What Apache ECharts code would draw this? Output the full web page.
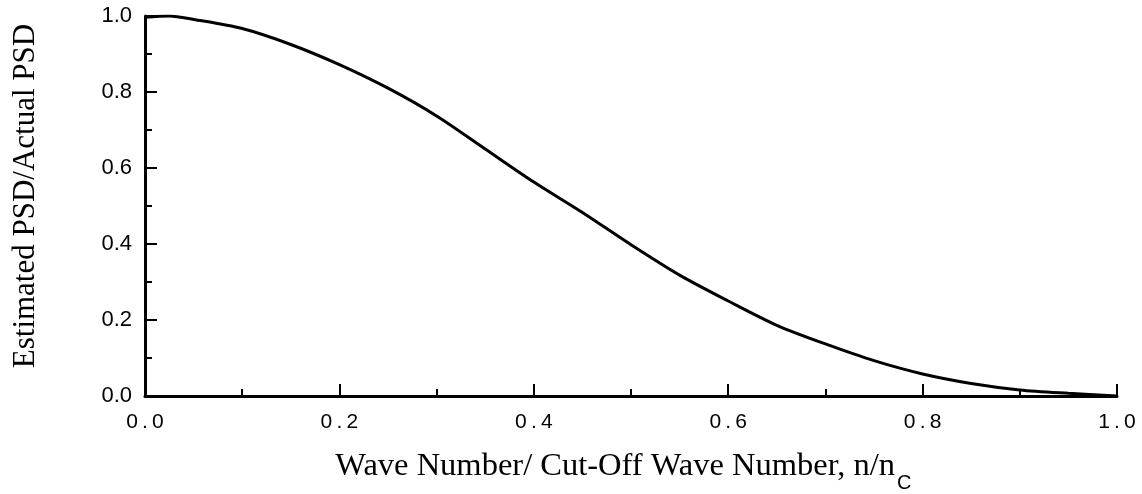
<!DOCTYPE html>
<html>
<head>
<meta charset="utf-8">
<script src="https://cdn.jsdelivr.net/npm/echarts@6/dist/echarts.min.js"></script>
<style>
  html, body { margin: 0; padding: 0; background: #fff; }
  #chart { width: 1142px; height: 494px; }
</style>
</head>
<body>
<div id="chart"></div>
<script>
// Normalised wave number n/nc
const waveNumber = [0.00, 0.025, 0.05, 0.10, 0.15, 0.20, 0.25, 0.30, 0.35, 0.40, 0.45,
                    0.50, 0.55, 0.60, 0.65, 0.70, 0.75, 0.80, 0.85, 0.90, 0.95, 1.00];
// Ratio of estimated to actual power spectral density
const psdRatio = [0.997, 1.000, 0.991, 0.967, 0.925, 0.872, 0.810, 0.737, 0.650, 0.563, 0.483,
                  0.398, 0.318, 0.250, 0.186, 0.137, 0.093, 0.058, 0.033, 0.016, 0.007, 0.000];
const xTicks = [0, 0.2, 0.4, 0.6, 0.8, 1.0];
const yTicks = [0, 0.2, 0.4, 0.6, 0.8, 1.0];

const xTitle = 'Wave Number/ Cut-Off Wave Number, n/n';
const xTitleSub = 'C';
const yTitle = 'Estimated PSD/Actual PSD';

const sans = '"Liberation Sans", Arial, Helvetica, sans-serif';
const serif = '"Liberation Serif", "Times New Roman", Times, serif';

const chart = echarts.init(document.getElementById('chart'), null, { renderer: 'canvas' });

const axisCommon = {
  type: 'value',
  min: 0,
  max: 1,
  interval: 0.2,
  axisLine: { show: true, lineStyle: { color: '#000', width: 3 } },
  axisTick: { show: true, inside: true, length: 12, lineStyle: { color: '#000', width: 2 } },
  minorTick: { show: true, splitNumber: 2, length: 7, lineStyle: { color: '#000', width: 2 } },
  splitLine: { show: false },
  minorSplitLine: { show: false }
};

chart.setOption({
  backgroundColor: '#fff',
  animation: false,
  grid: { left: 145, right: 25, top: 16, bottom: 98 },
  xAxis: Object.assign({}, axisCommon, {
    axisLabel: {
      show: true,
      margin: 16,
      color: '#000',
      fontFamily: sans,
      fontSize: 21,
      // tick labels on this axis are set with wide letter spacing
      formatter: v => xTicks.find(t => Math.abs(t - v) < 1e-9).toFixed(1).split('').join('\u2009')
    }
  }),
  yAxis: Object.assign({}, axisCommon, {
    axisLabel: {
      show: true,
      margin: 13,
      color: '#000',
      fontFamily: sans,
      fontSize: 22,
      formatter: v => yTicks.find(t => Math.abs(t - v) < 1e-9).toFixed(1)
    }
  }),
  series: [{
    type: 'line',
    data: waveNumber.map((x, i) => [x, psdRatio[i]]),
    smooth: 0.3,
    showSymbol: false,
    symbol: 'none',
    lineStyle: { color: '#000', width: 3 }
  }],
  graphic: [
    {
      type: 'text',
      x: 895,
      y: 483,
      style: {
        text: xTitle,
        font: '32.5px ' + serif,
        fill: '#000',
        textAlign: 'right',
        textVerticalAlign: 'bottom'
      }
    },
    {
      type: 'text',
      x: 897,
      y: 493,
      style: {
        text: xTitleSub,
        font: '20px ' + sans,
        fill: '#000',
        textAlign: 'left',
        textVerticalAlign: 'bottom'
      }
    },
    {
      type: 'text',
      x: 26,
      y: 196,
      rotation: Math.PI / 2,
      style: {
        text: yTitle,
        font: '31px ' + serif,
        fill: '#000',
        textAlign: 'center',
        textVerticalAlign: 'middle'
      }
    }
  ]
});
</script>
</body>
</html>
